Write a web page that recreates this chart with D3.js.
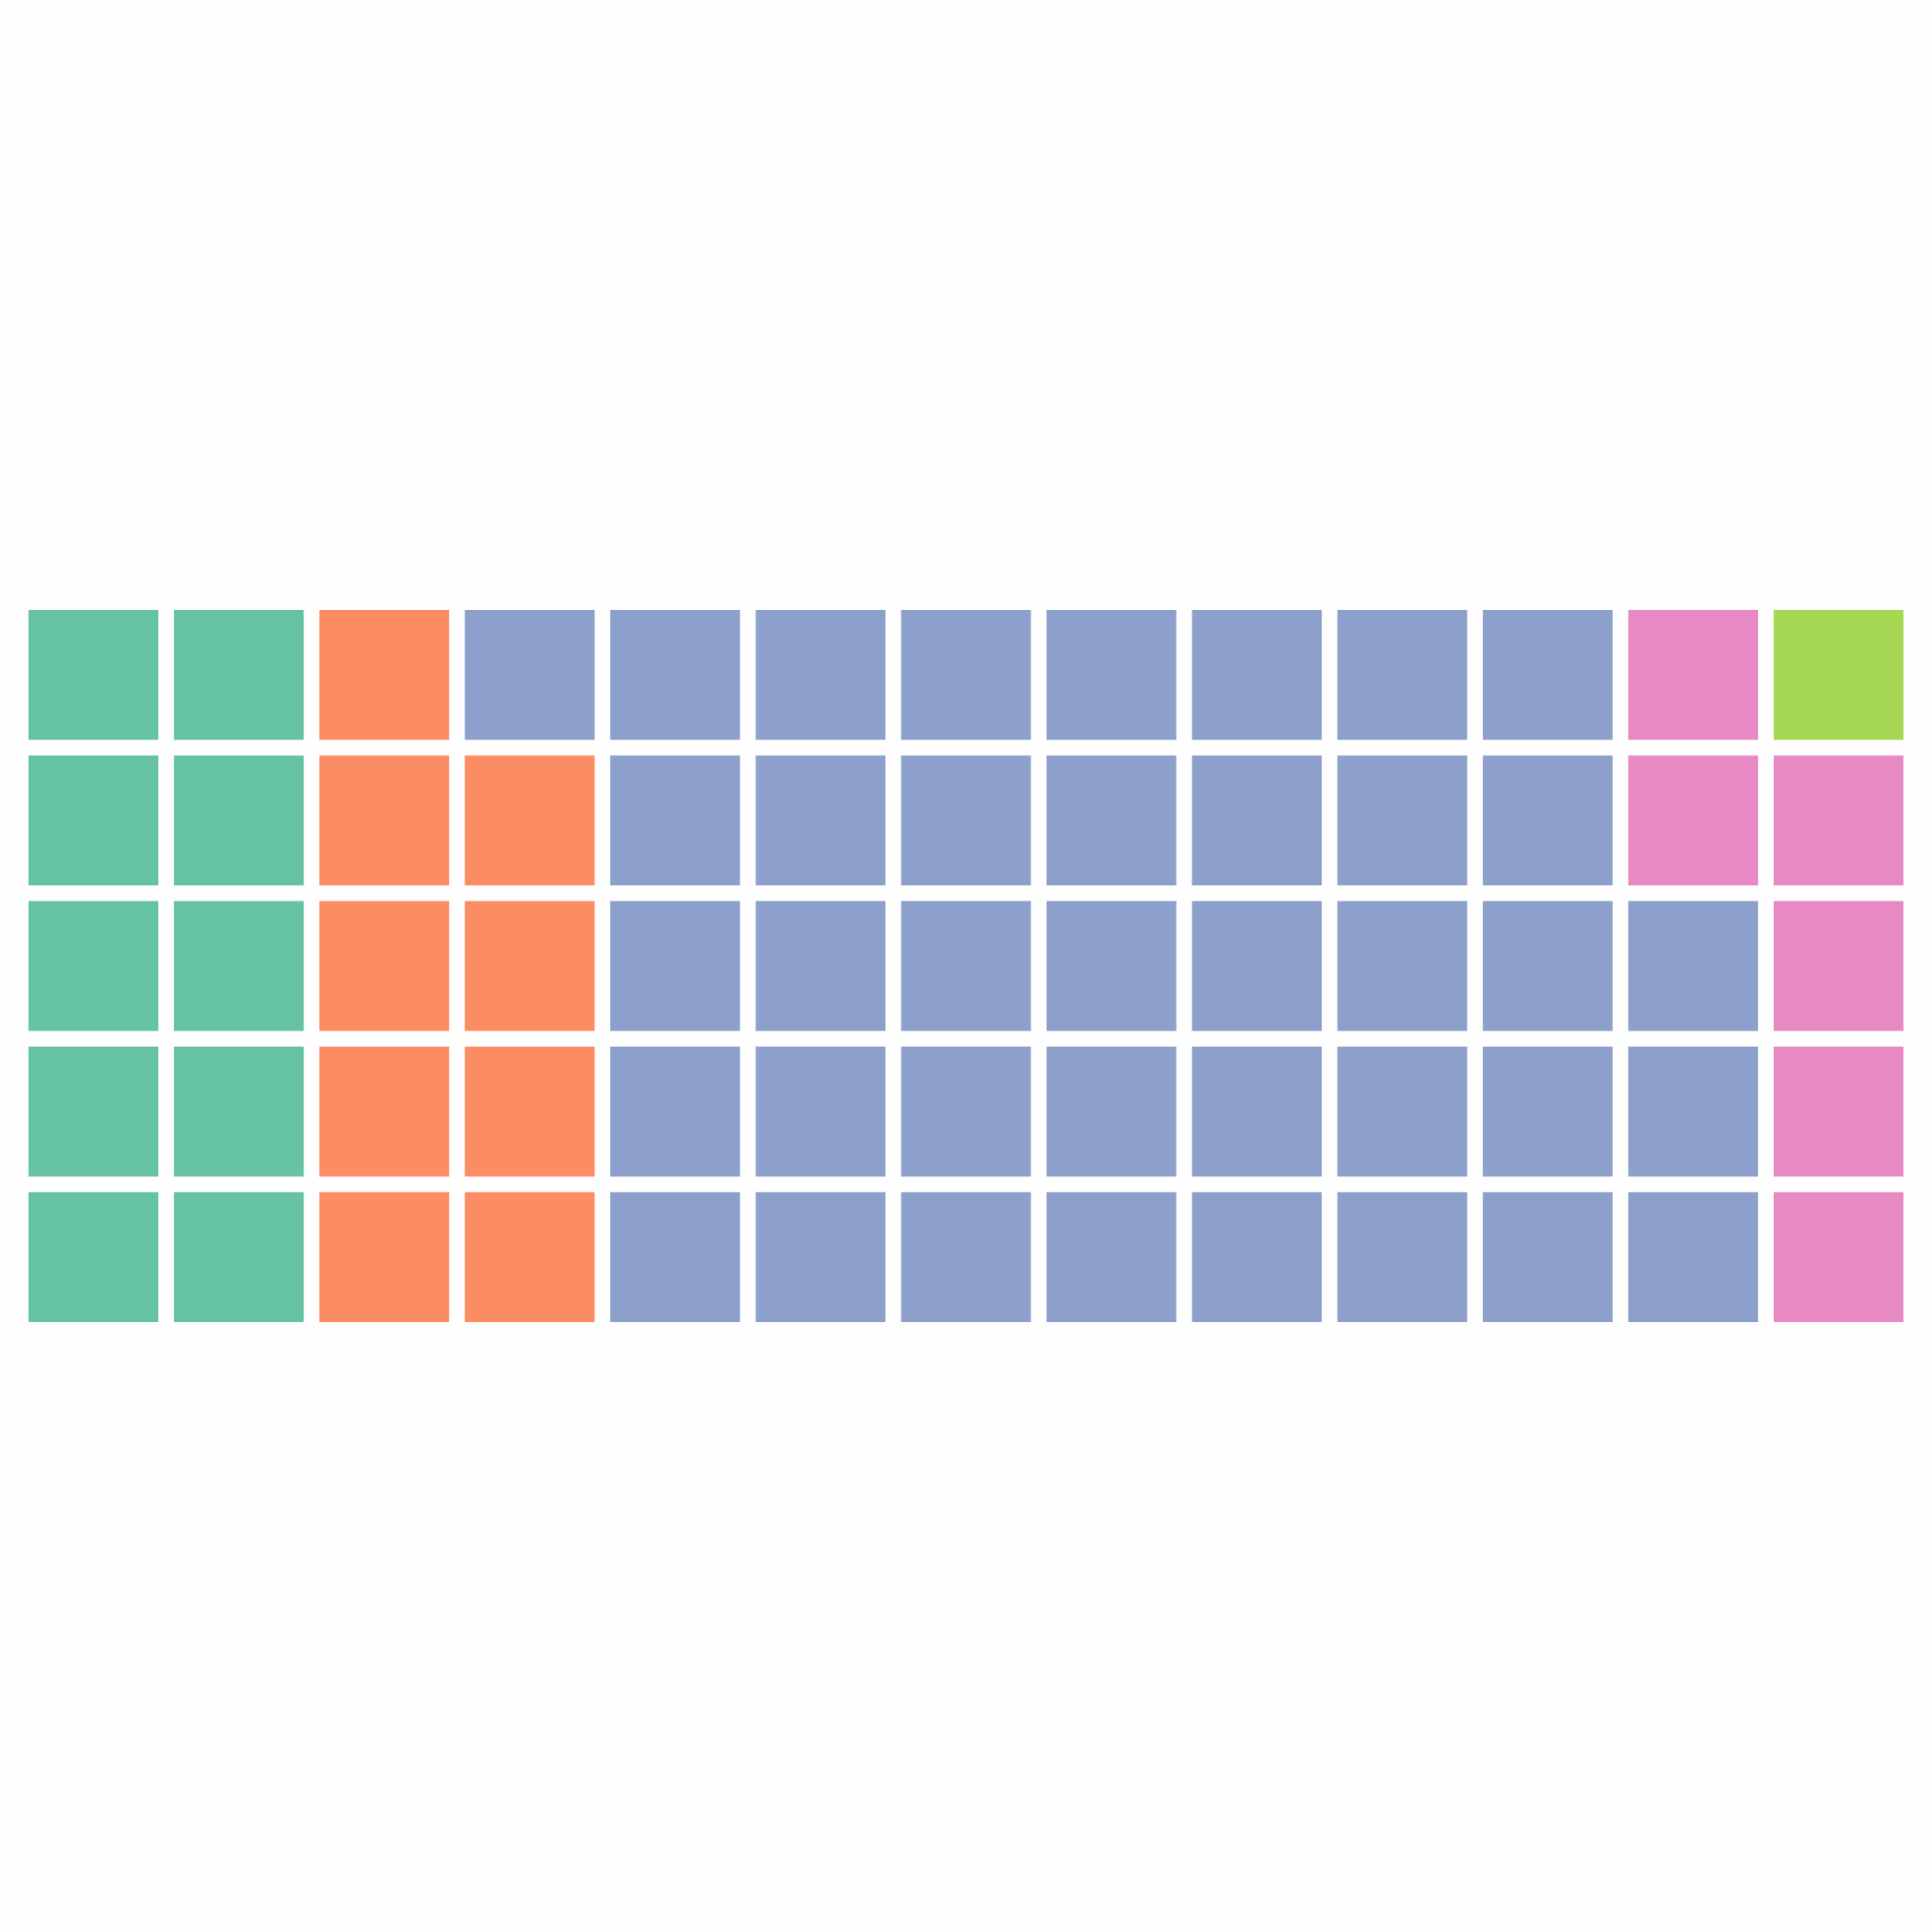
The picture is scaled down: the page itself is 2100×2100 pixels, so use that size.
<!DOCTYPE html>
<html>
<head>
<meta charset="utf-8">
<script src="https://cdn.jsdelivr.net/npm/d3@7"></script>
<style>
  html, body { margin: 0; padding: 0; background: #fefefe; }
  svg { display: block; }
</style>
</head>
<body>
<script>
// Data
const categories = ["A", "B", "C", "D", "E"];
const counts = [10, 9, 39, 6, 1];
const colors = ["#66c2a5", "#fc8d62", "#8da0cb", "#e78ac3", "#a6d854"];
const nRows = 5;
const nCols = 13;

const W = 2100, H = 2100;
const svg = d3.select("body").append("svg")
  .attr("width", W).attr("height", H);
svg.append("rect").attr("width", W).attr("height", H).attr("fill", "#fefefe");

// Build cells: column-major, bottom to top
const cells = [];
categories.forEach((c, ci) => {
  for (let k = 0; k < counts[ci]; k++) cells.push({ cat: c, ci });
});
cells.forEach((d, i) => {
  d.col = Math.floor(i / nRows);
  d.row = nRows - 1 - (i % nRows);
});

const x = d3.scaleBand().domain(d3.range(nCols)).range([31, 2069]).paddingInner(0.1076);
const y = d3.scaleBand().domain(d3.range(nRows)).range([663, 1437]).paddingInner(0.1076);
const color = d3.scaleOrdinal().domain(categories).range(colors);

svg.append("g").selectAll("rect").data(cells).join("rect")
  .attr("x", d => x(d.col))
  .attr("y", d => y(d.row))
  .attr("width", x.bandwidth())
  .attr("height", y.bandwidth())
  .attr("fill", d => color(d.cat));
</script>
</body>
</html>
